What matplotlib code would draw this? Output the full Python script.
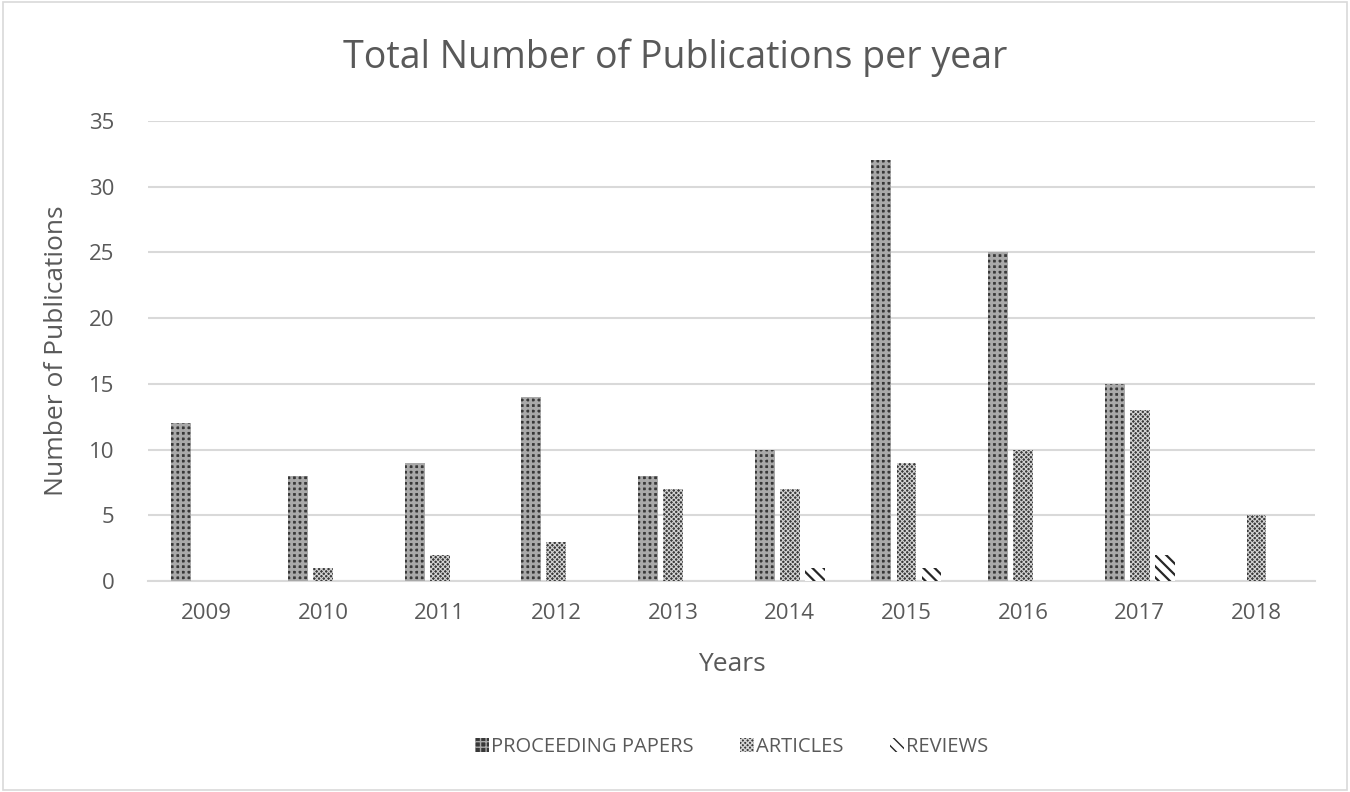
import numpy as np
import matplotlib
matplotlib.use("Agg")
import matplotlib.pyplot as plt
from matplotlib.patches import Rectangle

plt.rcParams['font.family'] = ['Open Sans', 'DejaVu Sans']

years = ['2009', '2010', '2011', '2012', '2013', '2014', '2015', '2016', '2017', '2018']
proceeding = [12, 8, 9, 14, 8, 10, 32, 25, 15, 0]
articles = [0, 1, 2, 3, 7, 7, 9, 10, 13, 5]
reviews = [0, 0, 0, 0, 0, 1, 1, 0, 2, 0]

txt = '#595959'
grid = '#d9d9d9'

fig = plt.figure(figsize=(13.5, 7.92), dpi=100)
ax = fig.add_axes([0.1096, 0.2664, 0.8644, 0.5808])

x = np.arange(len(years))
w = 0.17
p = 0.215
# hatch linewidth is taken from rcParams when each bar is made
with plt.rc_context({'hatch.linewidth': 2.0}):
    ax.bar(x - p, proceeding, w, facecolor='#383838', edgecolor='#a9a9a9', hatch='+++', linewidth=0,
           label='PROCEEDING PAPERS', zorder=3)
with plt.rc_context({'hatch.linewidth': 0.8}):
    ax.bar(x, articles, w, facecolor='#3a3a3a', edgecolor='#d4d4d4', hatch='xxxxxxx', linewidth=0,
           label='ARTICLES', zorder=3)
with plt.rc_context({'hatch.linewidth': 1.6}):
    ax.bar(x + p, reviews, w, facecolor='white', edgecolor='#262626', hatch='\\\\\\', linewidth=0,
           label='REVIEWS', zorder=3)

ax.set_xlim(-0.5, len(years) - 0.5)
ax.set_ylim(0, 35)
ax.set_yticks(range(0, 36, 5))
ax.set_xticks(x)
ax.set_xticklabels(years)
ax.yaxis.grid(True, color=grid, linewidth=1.5, zorder=0)
for s in ['top', 'right', 'left']:
    ax.spines[s].set_visible(False)
ax.spines['bottom'].set_color(grid)
ax.spines['bottom'].set_linewidth(1.5)
ax.tick_params(length=0, labelsize=16, colors=txt)
ax.tick_params(axis='x', pad=16)
ax.tick_params(axis='y', pad=24)

ax.set_xlabel('Years', fontsize=19, color=txt)
ax.set_ylabel('Number of Publications', fontsize=19, color=txt)
ax.xaxis.set_label_coords(0.5, -0.155)
ax.yaxis.set_label_coords(-0.068, 0.5)
fig.text(0.5, 0.927, 'Total Number of Publications per year', ha='center', va='center',
         fontsize=27, color=txt)

ax.legend(loc='center', bbox_to_anchor=(0.5, -0.36), ncol=3, frameon=False, fontsize=14.5,
          labelcolor=txt, handlelength=0.7, handleheight=0.7, handletextpad=0.1, columnspacing=2.3)

fig.patches.append(Rectangle((0.002, 0.003), 0.996, 0.994, transform=fig.transFigure,
                             fill=False, edgecolor=grid, linewidth=1.2))

plt.savefig('out.png', dpi=100)
